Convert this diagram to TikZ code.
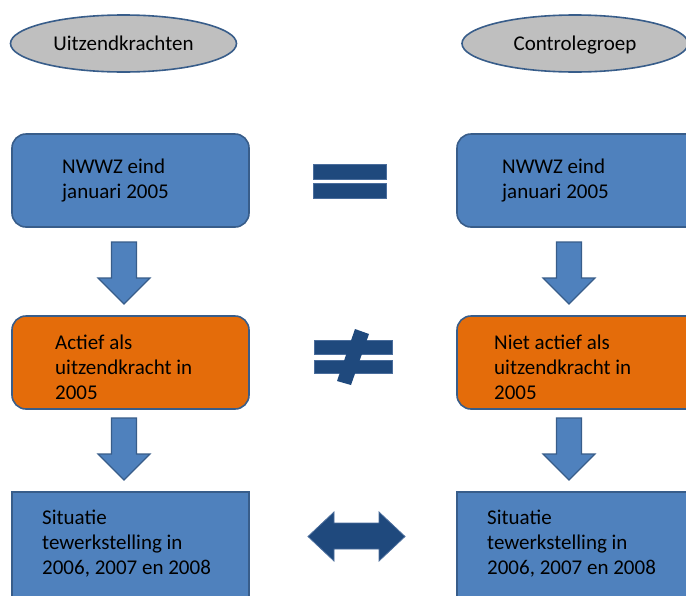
\documentclass[tikz,border=0pt]{standalone}
\usepackage{fontspec}
\setmainfont{Carlito}
\usetikzlibrary{shapes.geometric}
\definecolor{boxblue}{HTML}{4F81BD}
\definecolor{edgeblue}{HTML}{385D8A}
\definecolor{boxorange}{HTML}{E46C0A}
\definecolor{ellgray}{HTML}{BFBFBF}
\definecolor{darkblue}{HTML}{1F497D}
\definecolor{signedge}{HTML}{4A6D9C}
\tikzset{
  grp/.style={ellipse, draw=edgeblue, line width=1.6pt, fill=ellgray, inner sep=0pt,
    minimum width=226pt, minimum height=57pt, font=\fontsize{21}{25}\selectfont,
    text height=14pt, text depth=0pt},
  bluebox/.style={draw=edgeblue, line width=1.6pt, fill=boxblue, rounded corners=14pt},
  orangebox/.style={draw=edgeblue, line width=1.6pt, fill=boxorange, rounded corners=14pt},
  squarebox/.style={draw=edgeblue, line width=1.6pt, fill=boxblue},
  label/.style={anchor=base west, inner sep=0pt, align=left, font=\fontsize{21}{25}\selectfont},
  downarrow/.style={draw=edgeblue, line width=1.2pt, fill=boxblue, line join=miter},
  sign/.style={draw=signedge, line width=0.8pt, fill=darkblue},
}
\begin{document}
\begin{tikzpicture}[x=1pt,y=-1pt]
\clip (0,0) rectangle (686,595);
\fill[white] (0,0) rectangle (686,595);
% group ellipses
\node[grp] (gl) at (123.5,43.5) {Uitzendkrachten};
\node[grp] (gr) at (575,43.5) {Controlegroep};
% row 1
\draw[bluebox] (12,134) rectangle (249,227);
\draw[bluebox] (457,134) rectangle (710,227);
\node[label] (t1l) at (62,198) {NWWZ eind\\januari 2005};
\node[label] (t1r) at (502,198) {NWWZ eind\\januari 2005};
% row 2
\draw[orangebox] (12,316) rectangle (249,409);
\draw[orangebox] (457,316) rectangle (710,409);
\node[label] (t2l) at (55,399) {Actief als\\uitzendkracht in\\2005};
\node[label] (t2r) at (494,399) {Niet actief als\\uitzendkracht in\\2005};
% row 3
\draw[squarebox] (12,492) rectangle (249,620);
\draw[squarebox] (457,492) rectangle (710,620);
\node[label] (t3l) at (42,574) {Situatie\\tewerkstelling in\\2006, 2007 en 2008};
\node[label] (t3r) at (487,574) {Situatie\\tewerkstelling in\\2006, 2007 en 2008};
% down arrows
\foreach \cx/\ty in {124/242, 569/242, 124/418, 569/418}{
  \draw[downarrow] (\cx-12.5,\ty) -- (\cx+12.5,\ty) -- (\cx+12.5,\ty+36) -- (\cx+26,\ty+36)
    -- (\cx,\ty+62) -- (\cx-26,\ty+36) -- (\cx-12.5,\ty+36) -- cycle;
}
% equals sign
\draw[sign] (313,164) rectangle (386,179);
\draw[sign] (313,183.5) rectangle (386,198.5);
% not equals sign
\draw[sign] (314,340) rectangle (392,354);
\draw[sign] (314,360) rectangle (392,373);
\fill[darkblue] (355,329) -- (369,334) -- (351,385) -- (337,381) -- cycle;
% double arrow
\draw[sign, line join=miter] (308,536.5) -- (334,512) -- (334,523) -- (379,523) -- (379,512)
  -- (405,536.5) -- (379,561) -- (379,549) -- (334,549) -- (334,561) -- cycle;
\end{tikzpicture}
\end{document}
